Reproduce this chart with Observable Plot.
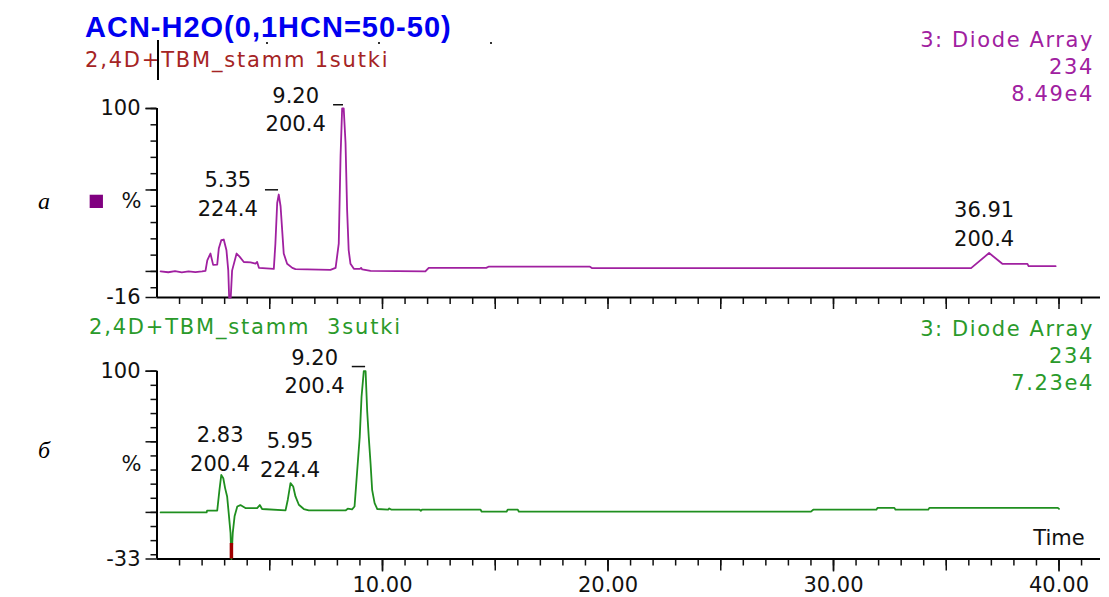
<!DOCTYPE html>
<html><head><meta charset="utf-8">
<script src="https://cdn.jsdelivr.net/npm/d3@7"></script>
<script src="https://cdn.jsdelivr.net/npm/@observablehq/plot@0.6"></script>
<style>
body{margin:0;background:#fff;}
#wrap{position:relative;width:1109px;height:597px;overflow:hidden;background:#fff;}
#wrap svg{position:absolute;left:0;}
.t{position:absolute;white-space:pre;line-height:1;font-family:"DejaVu Sans",sans-serif;font-size:21px;}
</style></head><body><div id="wrap"></div>
<script>
// ---- data ----
const topTimes  = [0.16,0.5,0.8,1.1,1.4,1.7,2.0,2.15,2.23,2.37,2.49,2.67,2.74,2.85,2.96,3.08,3.16,3.2,3.27,3.33,3.53,3.67,3.85,4.15,4.37,4.44,4.52,5.18,5.25,5.33,5.40,5.48,5.55,5.62,5.77,6.0,6.14,7.69,7.92,8.06,8.14,8.21,8.28,8.36,8.43,8.5,8.58,8.73,9.0,9.05,9.1,9.47,11.9,12.05,14.6,14.7,19.2,19.3,36.1,36.9,37.5,38.6,38.65,39.85];
const topValues = [0,-0.5,0.2,-0.6,0,-0.4,0,0.4,6.8,11,4,4.2,14,19.2,19.6,13,0.6,-16,-16,0.5,11,8.9,5.8,5.5,4.8,5.8,2.2,1.6,17,42,47.2,40,25.5,11,4.7,2.2,1.4,1.0,2.2,17,71,100,100,79,38,13,4.7,1.6,1.6,2.2,1.2,0.3,0,2.2,2.2,2.9,2.9,2,2,11.3,4.6,4.6,3.2,3.2];

const bottomTimes  = [0.16,2.2,2.22,2.67,2.77,2.85,2.94,3.02,3.11,3.18,3.26,3.30,3.36,3.44,3.56,3.70,3.92,4.44,4.56,4.66,5.70,5.80,5.92,6.04,6.14,6.29,6.51,6.73,8.36,8.46,8.65,8.76,8.88,8.99,9.07,9.17,9.25,9.32,9.39,9.47,9.54,9.65,9.77,10.25,10.3,10.4,11.65,11.7,11.75,14.35,14.4,15.5,15.55,16.0,16.05,29.0,29.1,31.9,31.95,32.7,32.75,34.2,34.25,39.95,40.0];
const bottomValues = [0,0,1.2,1.2,16,26.5,24.2,17.2,11.3,-0.5,-14.5,-33,-14.5,-2.8,4.2,5.2,3.1,3.0,5.2,2.4,1.4,9,20.7,18.3,11.3,5.4,2.4,1.4,1.4,2.6,2.2,4.2,30,53.5,81.7,100,100,72,53.5,34.8,16,6.6,2.4,1.9,2.8,1.9,1.9,1.2,1.9,1.9,0.5,0.5,1.9,1.9,0.5,0.5,1.9,1.9,3.2,3.2,1.9,1.9,3.2,3.2,2.5];

const topPeakText  = ["9.20\n200.4", "5.35\n224.4", "36.91\n200.4"];
const topPeakT     = [6.15, 3.14, 36.68];
const topPeakV     = [100.3, 48.5, 30.2];
const topDashT1    = [7.83, 4.81];
const topDashT2    = [8.27, 5.39];
const topDashV     = [102.3, 50.1];

const bottomPeakText = ["9.20\n200.4", "2.83\n200.4", "5.95\n224.4"];
const bottomPeakT    = [6.99, 2.8, 5.9];
const bottomPeakV    = [101.1, 46.1, 42.0];
const bottomDashT1   = [8.66];
const bottomDashT2   = [9.25];
const bottomDashV    = [103.3];

const bottomNegSpikeT = [3.30];
const bottomNegSpikeV1 = [-22];
const bottomNegSpikeV2 = [-33];

const topYLabels = [100, -16];
const bottomYLabels = [100, -33];
const xLabelTicks = [10, 20, 30, 40];
const topPercentAt = 43;
const bottomPercentAt = 34;
const timeLabel = {t: 40, v: -18.1, text: "Time"};

// ---- build ----
const wrap = document.getElementById("wrap");
const toRows = (T, V) => T.map((t, i) => ({t, v: V[i]}));
const labels = (txt, T, V) => txt.map((s, i) => ({text: s, t: T[i], v: V[i]}));
const dashes = (A, B, V) => A.map((a, i) => ({t1: a, t2: B[i], v: V[i]}));

const purple = "#a020a0", green = "#1f8f1f";
const xDomain = [0, 41.84];
const font = {fontFamily: "DejaVu Sans, sans-serif", fontSize: "21px", color: "#111", background: "transparent", overflow: "visible"};
const blank = () => "";

function axesCommon(yMinor, yMajor, yLabels, xLabels) {
  const m = [
    Plot.axisY(yMinor, {tickSize: 6, strokeWidth: 1.5, tickFormat: blank, label: null}),
    Plot.axisY(yMajor, {tickSize: 11, strokeWidth: 1.5, tickFormat: blank, label: null}),
    Plot.axisY(yLabels, {tickSize: 11, tickPadding: 5.5, strokeWidth: 1.5, fontSize: 21, tickFormat: d => String(d), label: null}),
    Plot.axisX(d3.range(1, 42), {tickSize: 7, strokeWidth: 1.5, tickFormat: blank, label: null}),
    Plot.axisX(d3.range(5, 41, 5), {tickSize: 12, strokeWidth: 1.5, tickFormat: blank, label: null})
  ];
  if (xLabels) m.push(Plot.axisX(xLabels, {tickSize: 13, tickPadding: 5, strokeWidth: 1.5, fontSize: 21, tickFormat: d => d.toFixed(2), label: null}));
  return m;
}

const topChart = Plot.plot({
  width: 1109, height: 320,
  marginLeft: 156.5, marginRight: 9, marginTop: 108, marginBottom: 23,
  style: font,
  x: {domain: xDomain, label: null},
  y: {domain: [-16, 100], label: null},
  marks: [
    ...axesCommon(d3.range(-10, 101, 10), [0, 50, 100], topYLabels, null),
    Plot.ruleX([0], {stroke: "#000", strokeWidth: 2}),
    Plot.ruleY([-16], {stroke: "#000", strokeWidth: 2}),
    Plot.line(toRows(topTimes, topValues), {x: "t", y: "v", stroke: purple, strokeWidth: 1.8}),
    Plot.ruleY(dashes(topDashT1, topDashT2, topDashV), {x1: "t1", x2: "t2", y: "v", stroke: "#111", strokeWidth: 1.5}),
    Plot.text(labels(topPeakText, topPeakT, topPeakV), {x: "t", y: "v", text: "text", fontSize: 21, lineHeight: 1.36, fill: "#111"}),
    Plot.text([topPercentAt], {y: d => d, text: () => "%", frameAnchor: "left", dx: -15.5, textAnchor: "end", fontSize: 21, fill: "#111"}),
    Plot.dot([topPercentAt], {y: d => d, frameAnchor: "left", dx: -60.7, symbol: "square", r: 7.5, fill: "#800080", stroke: "none"})
  ]
});
topChart.style.top = "0px";
wrap.appendChild(topChart);

const bottomChart = Plot.plot({
  width: 1109, height: 277,
  marginLeft: 156.5, marginRight: 9, marginTop: 50.7, marginBottom: 38.5,
  style: font,
  x: {domain: xDomain, label: null},
  y: {domain: [-33, 100], label: null},
  marks: [
    ...axesCommon(d3.range(-30, 101, 10), [0, 50, 100], bottomYLabels, xLabelTicks),
    Plot.ruleX([0], {stroke: "#000", strokeWidth: 2}),
    Plot.ruleY([-33], {stroke: "#000", strokeWidth: 2}),
    Plot.line(toRows(bottomTimes, bottomValues), {x: "t", y: "v", stroke: green, strokeWidth: 1.8}),
    Plot.ruleX(bottomNegSpikeT.map((t, i) => ({t, v1: bottomNegSpikeV1[i], v2: bottomNegSpikeV2[i]})), {x: "t", y1: "v1", y2: "v2", stroke: "#a00000", strokeWidth: 3.5}),
    Plot.ruleY(dashes(bottomDashT1, bottomDashT2, bottomDashV), {x1: "t1", x2: "t2", y: "v", stroke: "#111", strokeWidth: 1.5}),
    Plot.text(labels(bottomPeakText, bottomPeakT, bottomPeakV), {x: "t", y: "v", text: "text", fontSize: 21, lineHeight: 1.36, fill: "#111"}),
    Plot.text([bottomPercentAt], {y: d => d, text: () => "%", frameAnchor: "left", dx: -15.5, textAnchor: "end", fontSize: 21, fill: "#111"}),
    Plot.text([timeLabel], {x: "t", y: "v", text: "text", fontSize: 21, fill: "#111"})
  ]
});
bottomChart.style.top = "320px";
wrap.appendChild(bottomChart);

// ---- header texts ----
function addText(txt, css) {
  const d = document.createElement("div");
  d.className = "t";
  d.textContent = txt;
  Object.assign(d.style, css);
  wrap.appendChild(d);
  return d;
}
addText("ACN-H2O(0,1HCN=50-50)", {left: "85px", top: "12.5px", fontFamily: "Liberation Sans, Arial, sans-serif", fontWeight: "bold", fontSize: "29px", letterSpacing: "1px", color: "#0000f0"});
addText("2,4D+TBM_stamm 1sutki", {left: "85px", top: "50px", letterSpacing: "1.8px", color: "#a52424"});
addText("3: Diode Array\n234\n8.49e4", {right: "15px", top: "27px", letterSpacing: "1.6px", color: purple, textAlign: "right", lineHeight: "27px"});
addText("2,4D+TBM_stamm  3sutki", {left: "89px", top: "317px", letterSpacing: "1.8px", color: "#2a9a2a"});
addText("3: Diode Array\n234\n7.23e4", {right: "15px", top: "316px", letterSpacing: "1.6px", color: "#2a9a2a", textAlign: "right", lineHeight: "27px"});
addText("a", {left: "38px", top: "189px", fontFamily: "Liberation Serif, serif", fontStyle: "italic", fontSize: "24px", color: "#000"});
addText("б", {left: "38px", top: "438px", fontFamily: "Liberation Serif, serif", fontStyle: "italic", fontSize: "24px", color: "#000"});

// cursor line and tiny marks seen in the header
const cur = document.createElement("div");
Object.assign(cur.style, {position: "absolute", left: "157px", top: "40px", width: "2px", height: "40px", background: "#000"});
wrap.appendChild(cur);
[[266, 42], [378, 42], [490, 42]].forEach(([x, y]) => {
  const d = document.createElement("div");
  Object.assign(d.style, {position: "absolute", left: x + "px", top: y + "px", width: "2px", height: "2px", background: "#333"});
  wrap.appendChild(d);
});
</script>
</body></html>
